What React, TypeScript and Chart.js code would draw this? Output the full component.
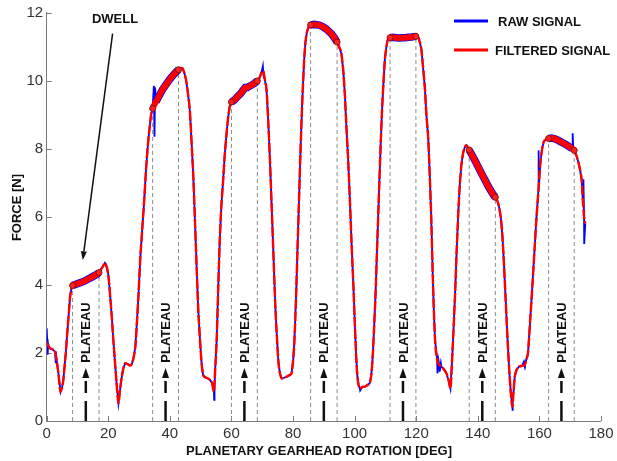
import React, { useEffect, useRef } from 'react';
import { Chart, registerables } from 'chart.js';
Chart.register(...registerables);

// Filtered signal: rotation [deg] and force [N]
const FILT_DEG = [
  0.0, 0.6, 1.2, 2.0, 2.7, 3.2, 3.8, 4.5, 5.0, 5.4, 5.8, 6.2, 6.6, 7.0, 7.6, 8.0,
  8.4, 9.5, 10.5, 11.5, 12.5, 13.5, 14.5, 15.5, 16.3, 17.0,
  17.6, 18.3, 18.9, 19.5, 20.0, 20.5, 21.1, 21.7, 22.2, 22.7, 23.3, 23.8, 24.3, 24.9, 25.5, 26.3, 27.1, 27.7, 28.3, 28.8, 29.3, 29.8, 30.4, 31.0, 31.6, 32.2, 32.8, 33.4, 33.9,
  34.4, 35.5, 36.5, 37.5, 38.5, 39.5, 40.5, 41.5, 42.2, 42.8,
  43.5, 44.1, 44.7, 45.3, 45.9, 46.5, 47.1, 47.6, 48.1, 48.7, 49.2, 49.8, 50.3, 50.8, 51.6, 52.4, 53.1, 53.7, 54.3, 54.7, 55.2, 55.7, 56.2, 56.7, 57.3, 57.8, 58.4, 58.9, 59.4,
  60.0, 61.0, 62.0, 63.0, 63.8, 64.5, 65.2, 66.0, 66.8, 67.6, 68.4,
  69.2, 69.8, 70.3, 70.8, 71.4, 72.0, 72.5, 73.0, 73.5, 73.9, 74.3, 74.8, 75.2, 75.7, 76.3, 77.1, 77.9, 78.7, 79.5, 80.0, 80.4, 81.0, 81.5, 82.0, 82.5, 83.0, 83.6, 84.0, 84.4, 85.0,
  85.7, 86.7, 87.7, 88.7, 89.7, 90.7, 91.6, 92.5, 93.4, 94.3,
  95.0, 95.7, 96.3, 96.8, 97.3, 97.9, 98.5, 99.0, 99.6, 100.1, 100.5, 100.9, 101.3, 101.7, 102.5, 103.3, 104.2, 104.9, 105.4, 105.8, 106.3, 106.8, 107.3, 107.9, 108.4, 108.9, 109.4, 109.8, 110.3, 110.7,
  111.5, 112.5, 113.5, 114.5, 115.5, 116.5, 117.5, 118.5, 119.2, 119.9,
  120.6, 121.2, 121.7, 122.3, 122.8, 123.3, 123.9, 124.4, 124.9, 125.3, 125.7, 126.1, 126.8, 127.5, 128.2, 129.0, 129.8, 130.5, 131.1, 131.6, 132.0, 132.6, 133.1, 133.6, 134.1, 134.7, 135.2, 135.8, 136.3,
  137.2, 138.2, 139.2, 140.2, 141.2, 142.2, 143.2, 144.2, 145.0, 145.7,
  146.4, 146.9, 147.5, 148.0, 148.5, 149.1, 149.6, 150.2, 150.7, 151.2, 151.6, 152.0, 152.6, 153.4, 154.4, 155.3, 155.9, 156.3, 157.0, 157.7, 158.4, 159.0, 159.7, 160.3, 160.9, 161.4, 162.2,
  163.0, 164.0, 165.0, 166.0, 167.0, 168.0, 169.0, 170.0, 170.7, 171.3,
  172.0, 172.6, 173.2, 173.7, 174.1, 174.5, 174.9,
];
const FILT_F = [
  2.30, 2.20, 2.13, 2.10, 2.03, 1.80, 1.40, 0.86, 1.00, 1.20, 1.60, 2.00, 2.50, 2.96, 3.65, 3.88,
  3.98, 4.02, 4.05, 4.08, 4.12, 4.17, 4.22, 4.27, 4.31, 4.36,
  4.45, 4.55, 4.64, 4.52, 4.30, 3.80, 3.10, 2.30, 1.70, 1.10, 0.52, 0.90, 1.25, 1.55, 1.70, 1.67, 1.63, 1.68, 1.90, 2.20, 2.90, 3.70, 4.80, 5.60, 6.40, 7.30, 8.05, 8.60, 9.00,
  9.18, 9.38, 9.55, 9.72, 9.85, 9.98, 10.10, 10.20, 10.27, 10.32,
  10.37, 10.36, 10.22, 10.00, 9.60, 9.10, 8.10, 7.20, 6.00, 4.50, 3.30, 2.35, 1.70, 1.35, 1.28, 1.25, 1.20, 1.12, 0.86, 1.50, 2.38, 3.90, 5.31, 6.30, 7.07, 7.80, 8.44, 8.90, 9.22,
  9.37, 9.43, 9.53, 9.62, 9.72, 9.80, 9.80, 9.84, 9.88, 9.93, 9.99,
  10.10, 10.25, 10.28, 10.05, 9.72, 8.70, 7.66, 6.45, 5.22, 4.20, 3.26, 2.40, 1.79, 1.42, 1.25, 1.27, 1.30, 1.34, 1.40, 1.75, 2.28, 3.70, 5.22, 6.70, 8.15, 9.40, 10.60, 11.10, 11.38, 11.56,
  11.63, 11.65, 11.64, 11.62, 11.58, 11.52, 11.45, 11.37, 11.26, 11.13,
  10.98, 10.79, 10.30, 9.62, 8.70, 7.66, 6.40, 5.22, 3.95, 2.77, 1.90, 1.30, 1.05, 0.96, 1.00, 1.01, 1.06, 1.11, 1.35, 1.79, 2.70, 3.75, 5.10, 6.68, 8.00, 9.13, 10.00, 10.60, 10.98, 11.18,
  11.26, 11.27, 11.26, 11.25, 11.26, 11.26, 11.27, 11.28, 11.29, 11.30,
  11.28, 11.12, 10.90, 10.30, 9.80, 9.00, 8.30, 7.20, 5.90, 4.50, 3.30, 2.40, 1.80, 1.65, 1.59, 1.52, 1.40, 1.20, 0.96, 1.70, 2.47, 3.70, 4.92, 6.00, 6.88, 7.55, 7.86, 8.05, 8.10,
  7.96, 7.80, 7.63, 7.45, 7.27, 7.10, 6.93, 6.77, 6.65, 6.57,
  6.45, 6.29, 5.95, 5.41, 4.60, 3.45, 2.50, 1.50, 0.85, 0.42, 0.85, 1.30, 1.50, 1.60, 1.62, 1.66, 1.85, 2.00, 2.95, 3.94, 5.00, 5.90, 6.80, 7.56, 8.00, 8.20, 8.28,
  8.30, 8.31, 8.29, 8.25, 8.20, 8.15, 8.10, 8.04, 8.00, 7.95,
  7.80, 7.62, 7.38, 7.10, 6.50, 6.00, 5.80,
];

// Raw signal: extra samples where the raw trace departs from the filtered one
const RAW_DEG = [
  0.0, 0.15, 0.3, 0.5, 2.9, 3.0,
  34.8, 35.0, 35.2,
  54.4, 54.5, 70.2, 70.4, 101.8,
  126.9, 127.2, 127.6, 128.0, 151.25, 151.4, 155.0,
  159.7, 159.8, 160.6, 170.8, 171.0, 174.3, 174.5, 174.6,
];
const RAW_F = [
  2.72, 2.40, 1.95, 2.25, 1.70, 2.05,
  9.85, 8.35, 9.80,
  0.62, 1.00, 10.42, 10.15, 0.90,
  1.40, 1.80, 1.45, 1.70, 0.30, 0.70, 1.75,
  7.95, 6.80, 7.80, 8.45, 8.00, 7.10, 6.20, 5.20,
];

// Plateau windows [deg]
const PLATEAU_START = [8.4, 34.4, 60.0, 85.7, 111.5, 137.2, 163.0];
const PLATEAU_END = [17.0, 42.8, 68.4, 94.3, 119.9, 145.7, 171.3];

const X_MIN = 0, X_MAX = 180, X_STEP = 20;
const Y_MIN = 0, Y_MAX = 12, Y_STEP = 2;

// Annotation anchors in data units
const DWELL_TEXT = { x: 22.2, y: 11.82 };
const DWELL_FROM = { x: 21.4, y: 11.38 };
const DWELL_TO = { x: 11.7, y: 4.72 };

const FONT = '"Liberation Sans", Arial, Helvetica, sans-serif';

const inPlateau = (a: number, b: number) =>
  PLATEAU_START.some((s, i) => a >= s - 1e-6 && b <= PLATEAU_END[i] + 1e-6);
const isBoundary = (x: number) =>
  PLATEAU_START.some((s) => Math.abs(s - x) < 1e-6) || PLATEAU_END.some((e) => Math.abs(e - x) < 1e-6);
const isFiltSample = (x: number, y: number) =>
  FILT_DEG.some((d, i) => Math.abs(d - x) < 1e-6 && Math.abs(FILT_F[i] - y) < 1e-6);

const filtPoints = FILT_DEG.map((x, i) => ({ x, y: FILT_F[i] }));
const rawPoints = [
  ...FILT_DEG.map((x, i) => ({ x, y: FILT_F[i] })),
  ...RAW_DEG.map((x, i) => ({ x, y: RAW_F[i] })),
].sort((a, b) => a.x - b.x);

const forceAt = (x: number) => FILT_F[FILT_DEG.findIndex((d) => Math.abs(d - x) < 1e-6)];
const guidePoints: { x: number; y: number | null }[] = [];
[...PLATEAU_START, ...PLATEAU_END].forEach((x) => {
  guidePoints.push({ x, y: 0 }, { x, y: forceAt(x) }, { x, y: null });
});

const overlay = {
  id: 'overlay',
  beforeDatasetsDraw(chart: any) {
    const { ctx, chartArea, scales } = chart;
    const xs = scales.x, ys = scales.y;
    ctx.save();
    ctx.strokeStyle = '#7a7a7a';
    ctx.lineWidth = 1;
    for (let v = X_MIN; v <= X_MAX; v += X_STEP) {
      const px = Math.round(xs.getPixelForValue(v)) + 0.5;
      ctx.beginPath();
      ctx.moveTo(px, chartArea.bottom);
      ctx.lineTo(px, chartArea.bottom - 5);
      ctx.stroke();
    }
    for (let v = Y_MIN; v <= Y_MAX; v += Y_STEP) {
      const py = Math.round(ys.getPixelForValue(v)) + 0.5;
      ctx.beginPath();
      ctx.moveTo(chartArea.left, py);
      ctx.lineTo(chartArea.left + 5, py);
      ctx.stroke();
    }
    ctx.restore();
  },
  afterDatasetsDraw(chart: any) {
    const { ctx, scales } = chart;
    const xs = scales.x, ys = scales.y;
    const capH = 0.716 * 13;
    ctx.save();
    ctx.fillStyle = '#111';
    ctx.strokeStyle = '#111';

    // plateau arrows + labels
    PLATEAU_START.forEach((s, i) => {
      const cx = xs.getPixelForValue((s + PLATEAU_END[i]) / 2);
      const base = ys.getPixelForValue(0);
      ctx.save();
      ctx.lineWidth = 2.5;
      ctx.beginPath();
      ctx.moveTo(cx, base);
      ctx.lineTo(cx, base - 20);
      ctx.moveTo(cx, base - 28);
      ctx.lineTo(cx, base - 40);
      ctx.stroke();
      ctx.beginPath();
      ctx.moveTo(cx, base - 53);
      ctx.lineTo(cx - 3.5, base - 43);
      ctx.lineTo(cx + 3.5, base - 43);
      ctx.closePath();
      ctx.fill();
      ctx.translate(cx, base - 88.5);
      ctx.rotate(-Math.PI / 2);
      ctx.font = `bold 13px ${FONT}`;
      ctx.textAlign = 'center';
      ctx.textBaseline = 'alphabetic';
      ctx.fillText('PLATEAU', 0, capH / 2);
      ctx.restore();
    });

    // DWELL label + arrow
    ctx.font = `bold 13px ${FONT}`;
    ctx.textAlign = 'center';
    ctx.textBaseline = 'alphabetic';
    ctx.fillText('DWELL', xs.getPixelForValue(DWELL_TEXT.x), ys.getPixelForValue(DWELL_TEXT.y) + capH / 2);
    const fx = xs.getPixelForValue(DWELL_FROM.x), fy = ys.getPixelForValue(DWELL_FROM.y);
    const tx = xs.getPixelForValue(DWELL_TO.x), ty = ys.getPixelForValue(DWELL_TO.y);
    const ang = Math.atan2(ty - fy, tx - fx);
    const hl = 9, hw = 3;
    const bx = tx - hl * Math.cos(ang), by = ty - hl * Math.sin(ang);
    ctx.lineWidth = 1.5;
    ctx.beginPath();
    ctx.moveTo(fx, fy);
    ctx.lineTo(bx, by);
    ctx.stroke();
    ctx.beginPath();
    ctx.moveTo(tx, ty);
    ctx.lineTo(bx + hw * Math.sin(ang), by - hw * Math.cos(ang));
    ctx.lineTo(bx - hw * Math.sin(ang), by + hw * Math.cos(ang));
    ctx.closePath();
    ctx.fill();

    // legend
    ctx.lineWidth = 3;
    ctx.strokeStyle = '#0000ff';
    ctx.beginPath();
    ctx.moveTo(454, 21);
    ctx.lineTo(488, 21);
    ctx.stroke();
    ctx.strokeStyle = '#ff0000';
    ctx.beginPath();
    ctx.moveTo(454, 50);
    ctx.lineTo(488, 50);
    ctx.stroke();
    ctx.fillStyle = '#111';
    ctx.textAlign = 'left';
    ctx.fillText('RAW SIGNAL', 498, 21 + capH / 2);
    ctx.fillText('FILTERED SIGNAL', 495, 50 + capH / 2);

    // axis titles
    ctx.textAlign = 'center';
    ctx.fillText('PLANETARY GEARHEAD ROTATION [DEG]', 319, 450 + capH / 2);
    ctx.save();
    ctx.translate(16, 207.5);
    ctx.rotate(-Math.PI / 2);
    ctx.fillText('FORCE [N]', 0, capH / 2);
    ctx.restore();

    ctx.restore();
  },
};

export default function App() {
  const ref = useRef<HTMLCanvasElement | null>(null);
  useEffect(() => {
    document.body.style.margin = '0';
    const canvas = ref.current!;
    const chart = new Chart(canvas, {
      type: 'line',
      data: {
        datasets: [
          {
            label: 'FILTERED SIGNAL',
            data: filtPoints,
            order: 1,
            borderColor: '#ff0000',
            borderWidth: 2.4,
            borderDash: [10, 2],
            cubicInterpolationMode: 'monotone',
            pointRadius: (c: any) => (c.raw && isBoundary(c.raw.x) ? 3 : 0),
            pointBackgroundColor: '#ff2020',
            pointBorderColor: '#8a1010',
            pointBorderWidth: 1,
            segment: {
              borderWidth: (c: any) => (inPlateau(c.p0.parsed.x, c.p1.parsed.x) ? 6 : 2.4),
              borderDash: (c: any) => (inPlateau(c.p0.parsed.x, c.p1.parsed.x) ? [] : [10, 2]),
            },
          } as any,
          {
            label: 'RAW SIGNAL',
            data: rawPoints,
            order: 2,
            borderColor: '#0000ff',
            borderWidth: 3,
            tension: 0,
            pointRadius: 0,
            segment: {
              borderWidth: (c: any) =>
                inPlateau(c.p0.parsed.x, c.p1.parsed.x) &&
                isFiltSample(c.p0.parsed.x, c.p0.parsed.y) &&
                isFiltSample(c.p1.parsed.x, c.p1.parsed.y)
                  ? 7.5
                  : 1.8,
            },
          } as any,
          {
            label: 'plateau bounds',
            data: guidePoints,
            order: 3,
            borderColor: '#8c8c8c',
            borderWidth: 1,
            borderDash: [4, 3],
            pointRadius: 0,
            spanGaps: false,
          } as any,
        ],
      },
      options: {
        responsive: false,
        animation: false,
        events: [],
        layout: { padding: { left: 0, top: 12.3, right: 15.7, bottom: 0 } },
        plugins: { legend: { display: false }, tooltip: { enabled: false } },
        scales: {
          x: {
            type: 'linear',
            min: X_MIN,
            max: X_MAX,
            afterFit: (s: any) => { s.height = 40; },
            grid: { drawOnChartArea: false, drawTicks: false },
            border: { display: true, color: '#7a7a7a', width: 1 },
            ticks: { stepSize: X_STEP, padding: 3.5, color: '#333', font: { family: FONT, size: 15 } },
          },
          y: {
            type: 'linear',
            min: Y_MIN,
            max: Y_MAX,
            afterFit: (s: any) => { s.width = 46.7; },
            grid: { drawOnChartArea: false, drawTicks: false },
            border: { display: true, color: '#7a7a7a', width: 1 },
            ticks: { stepSize: Y_STEP, padding: 3.5, color: '#333', font: { family: FONT, size: 15 } },
          },
        },
      } as any,
      plugins: [overlay],
    });
    return () => chart.destroy();
  }, []);
  return (
    <div style={{ position: 'fixed', left: 0, top: 0, width: 617, height: 461, background: '#fff' }}>
      <canvas ref={ref} width={617} height={461} />
    </div>
  );
}
